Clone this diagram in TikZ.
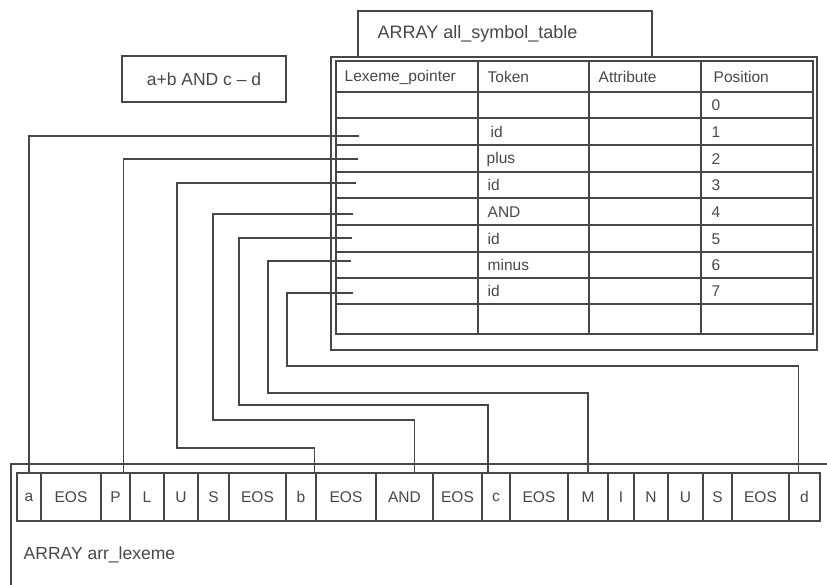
\documentclass[tikz,border=0pt]{standalone}
\usepackage{fontspec}
\setmainfont{Liberation Sans}
\begin{document}
\begin{tikzpicture}[
        x=1pt, y=-1pt,
        line width=1.4pt, color=black!72,
        cell/.style={draw, minimum height=48pt, inner sep=0pt, font=\fontsize{15.5}{18}\selectfont},
        lbl/.style={anchor=west, inner sep=0pt, font=\fontsize{15.5}{18}\selectfont},
        caption/.style={anchor=west, inner sep=0pt, font=\fontsize{17.5}{21}\selectfont}
    ]
        \useasboundingbox (0,0) rectangle (827,585);

        % Expression
        \node[draw, minimum width=164pt, minimum height=46pt, inner sep=0pt,
              font=\fontsize{17.5}{21}\selectfont] (expr) at (204,79) {a+b AND c -- d};

        % Symbol table frame
        \draw (358,57) |- (652,11) -- (652,57);
        \node[caption, font=\fontsize{18}{21}\selectfont] (symtitle) at (377,34) {ARRAY all\_symbol\_table};
        \draw (331,57) rectangle (817,350);
        \draw (336,61) rectangle (813,334);

        % Symbol table grid
        \draw (478,61) -- (478,334);
        \draw (589,61) -- (589,334);
        \draw (701,61) -- (701,334);
        \draw (336,92) -- (813,92);
        \draw (336,118) -- (813,118);
        \draw (336,145) -- (813,145);
        \draw (336,172) -- (813,172);
        \draw (336,198) -- (813,198);
        \draw (336,225) -- (813,225);
        \draw (336,252) -- (813,252);
        \draw (336,278) -- (813,278);
        \draw (336,304) -- (813,304);

        % Header
        \node[lbl] (hptr) at (344,77) {Lexeme\_pointer};
        \node[lbl] (htok) at (487,77) {Token};
        \node[lbl] (hattr) at (598,77) {Attribute};
        \node[lbl] (hpos) at (713,77) {Position};

        % Tokens
        \node[lbl] (tok1) at (490,132) {id};
        \node[lbl] (tok2) at (486,159) {plus};
        \node[lbl] (tok3) at (487,185) {id};
        \node[lbl] (tok4) at (487,212) {AND};
        \node[lbl] (tok5) at (487,239) {id};
        \node[lbl] (tok6) at (487,265) {minus};
        \node[lbl] (tok7) at (487,291) {id};

        % Positions
        \node[lbl] (pos0) at (711,105) {0};
        \node[lbl] (pos1) at (711,132) {1};
        \node[lbl] (pos2) at (711,159) {2};
        \node[lbl] (pos3) at (711,185) {3};
        \node[lbl] (pos4) at (711,212) {4};
        \node[lbl] (pos5) at (711,239) {5};
        \node[lbl] (pos6) at (711,265) {6};
        \node[lbl] (pos7) at (711,291) {7};

        % Lexeme pointers
        \coordinate (ptr1) at (359,136);
        \coordinate (ptr2) at (358,159);
        \coordinate (ptr3) at (356,183);
        \coordinate (ptr4) at (353,214);
        \coordinate (ptr5) at (352,238);
        \coordinate (ptr6) at (351,261);
        \coordinate (ptr7) at (353,293);

        % Lexeme array frame
        \draw (11,585) |- (827,464);
        \node[caption] (lextitle) at (23,555) {ARRAY arr\_lexeme};

        % Lexeme array cells
        \node[cell, minimum width=24pt] (la) at (29,497) {a};
        \node[cell, minimum width=60pt] (leos1) at (71,497) {EOS};
        \node[cell, minimum width=29pt] (lp) at (115.5,497) {P};
        \node[cell, minimum width=34pt] (ll) at (147,497) {L};
        \node[cell, minimum width=34pt] (lu) at (181,497) {U};
        \node[cell, minimum width=31pt] (ls) at (213.5,497) {S};
        \node[cell, minimum width=57pt] (leos2) at (257.5,497) {EOS};
        \node[cell, minimum width=30pt] (lb) at (301,497) {b};
        \node[cell, minimum width=60pt] (leos3) at (346,497) {EOS};
        \node[cell, minimum width=57pt] (land) at (404.5,497) {AND};
        \node[cell, minimum width=49pt] (leos4) at (457.5,497) {EOS};
        \node[cell, minimum width=28pt] (lc) at (496,497) {c};
        \node[cell, minimum width=58pt] (leos5) at (539,497) {EOS};
        \node[cell, minimum width=40pt] (lm) at (588,497) {M};
        \node[cell, minimum width=26pt] (li) at (621,497) {I};
        \node[cell, minimum width=34pt] (ln) at (651,497) {N};
        \node[cell, minimum width=35pt] (lu2) at (685.5,497) {U};
        \node[cell, minimum width=29pt] (ls2) at (717.5,497) {S};
        \node[cell, minimum width=57pt] (leos6) at (760.5,497) {EOS};
        \node[cell, minimum width=31pt] (ld) at (804.5,497) {d};

        % Pointer connections
        \draw (ptr1) -| (la.north);
        \draw (ptr2) -| ([xshift=-7pt]lp.north east);
        \draw (ptr3) -| (177,448) -| ([xshift=-2pt]lb.north east);
        \draw (ptr4) -| (213,420) -| ([xshift=10pt]land.north);
        \draw (ptr5) -| (239,405) -| ([xshift=-8pt]lc.north);
        \draw (ptr6) -| (268,393) -| (lm.north);
        \draw (ptr7) -| (287,366) -| ([xshift=-6pt]ld.north);
    \end{tikzpicture}
\end{document}
